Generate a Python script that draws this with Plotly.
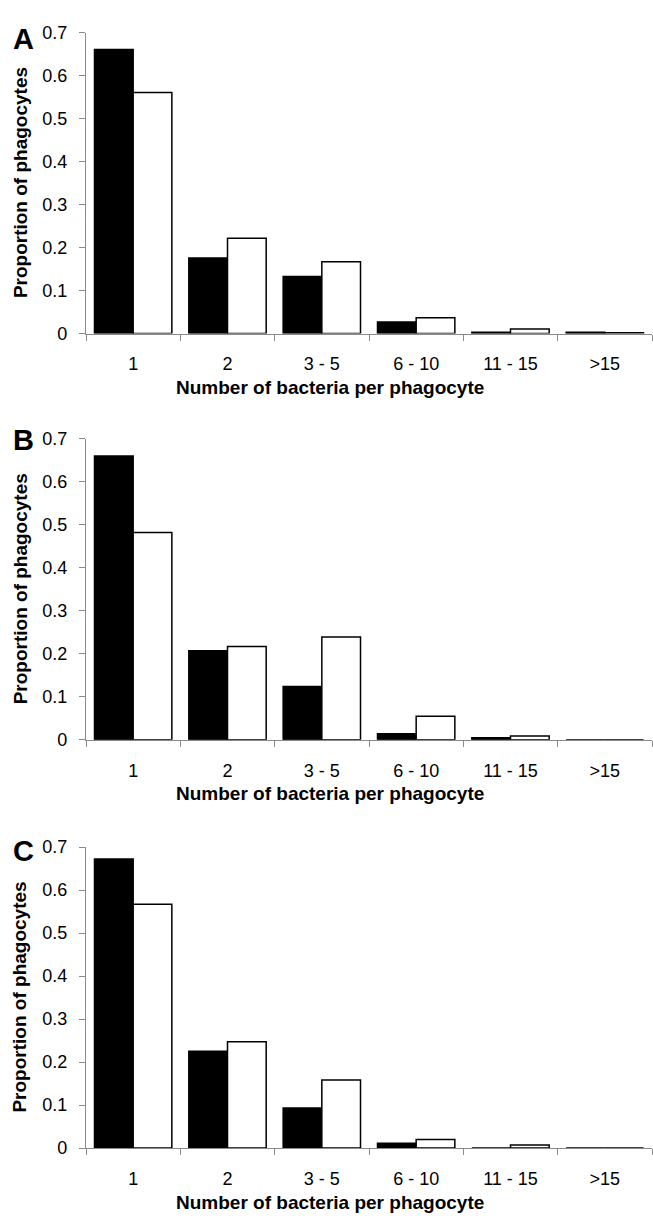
import plotly.graph_objects as go

categories = ["1", "2", "3 - 5", "6 - 10", "11 - 15", ">15"]

a_black = [0.661, 0.176, 0.133, 0.027, 0.003, 0.003]
a_white = [0.561, 0.222, 0.167, 0.037, 0.011, 0.002]

b_black = [0.660, 0.207, 0.124, 0.014, 0.005, 0.0]
b_white = [0.482, 0.217, 0.239, 0.055, 0.009, 0.0]

c_black = [0.672, 0.225, 0.093, 0.011, 0.0, 0.0]
c_white = [0.567, 0.247, 0.158, 0.020, 0.007, 0.0]

panel_letters = ["A", "B", "C"]
y_ticks = [0, 0.1, 0.2, 0.3, 0.4, 0.5, 0.6, 0.7]
y_tick_text = ["0", "0.1", "0.2", "0.3", "0.4", "0.5", "0.6", "0.7"]

W, H = 653, 1221
FONT = "Liberation Sans, Arial, sans-serif"
AXIS_COL = "#8a8a8a"

# pixel positions (top of 0.7, bottom at 0) for each panel
panels_px = [(23, 329), (436, 742), (851, 1157)]
letter_y_px = [29, 437, 855]
x_px = (86, 652)

fig = go.Figure()
series = [(a_black, a_white), (b_black, b_white), (c_black, c_white)]

annotations = []
for i, ((blk, wht), (ytop, ybot), letter, ly) in enumerate(
        zip(series, panels_px, panel_letters, letter_y_px)):
    n = "" if i == 0 else str(i + 1)
    xa = "x" + n
    ya = "y" + n
    fig.add_trace(go.Bar(x=categories, y=blk, xaxis=xa, yaxis=ya,
                         marker=dict(color="black", line=dict(color="black", width=1.5)),
                         showlegend=False))
    fig.add_trace(go.Bar(x=categories, y=wht, xaxis=xa, yaxis=ya,
                         marker=dict(color="white", line=dict(color="black", width=1.5)),
                         showlegend=False))
    dom_y = [1 - ybot / H, 1 - ytop / H]
    fig.layout["xaxis" + n] = dict(
        domain=[x_px[0] / W, x_px[1] / W], anchor=ya,
        type="category", range=[-0.5, 5.5],
        showline=True, linecolor=AXIS_COL, linewidth=1.2,
        ticks="outside", tickson="boundaries", ticklen=6, tickcolor=AXIS_COL, tickwidth=1.2,
        tickfont=dict(family=FONT, size=18, color="black"),
        ticklabelstandoff=14,
        showgrid=False, zeroline=False, fixedrange=True,
    )
    fig.layout["yaxis" + n] = dict(
        domain=dom_y, anchor=xa, range=[0, 0.7],
        tickvals=y_ticks, ticktext=y_tick_text,
        showline=True, linecolor=AXIS_COL, linewidth=1.2,
        ticks="outside", ticklen=6, tickcolor=AXIS_COL, tickwidth=1.2,
        tickfont=dict(family=FONT, size=18, color="black"),
        ticklabelstandoff=8,
        showgrid=False, zeroline=False, fixedrange=True,
    )
    # panel letter
    annotations.append(dict(text="<b>" + letter + "</b>", x=23 / W, y=1 - ly / H,
                            xref="paper", yref="paper", xanchor="center", yanchor="middle",
                            showarrow=False, font=dict(family=FONT, size=29, color="black")))
    # y title
    annotations.append(dict(text="<b>Proportion of phagocytes</b>", x=20 / W,
                            y=1 - ((ytop + ybot) / 2) / H,
                            xref="paper", yref="paper", xanchor="center", yanchor="middle",
                            textangle=-90, showarrow=False,
                            font=dict(family=FONT, size=19, color="black")))
    # x title
    annotations.append(dict(text="<b>Number of bacteria per phagocyte</b>", x=330 / W,
                            y=1 - (ybot + 55) / H,
                            xref="paper", yref="paper", xanchor="center", yanchor="middle",
                            showarrow=False, font=dict(family=FONT, size=19, color="black")))

fig.update_layout(
    width=W, height=H,
    margin=dict(l=0, r=0, t=0, b=0),
    paper_bgcolor="white", plot_bgcolor="white",
    barmode="group", bargap=0.18, bargroupgap=0,
    annotations=annotations,
    font=dict(family=FONT, color="black"),
)

fig.write_html("out.html", config={"displayModeBar": False},
               post_script="document.body.style.margin='0';document.body.style.padding='0';")
